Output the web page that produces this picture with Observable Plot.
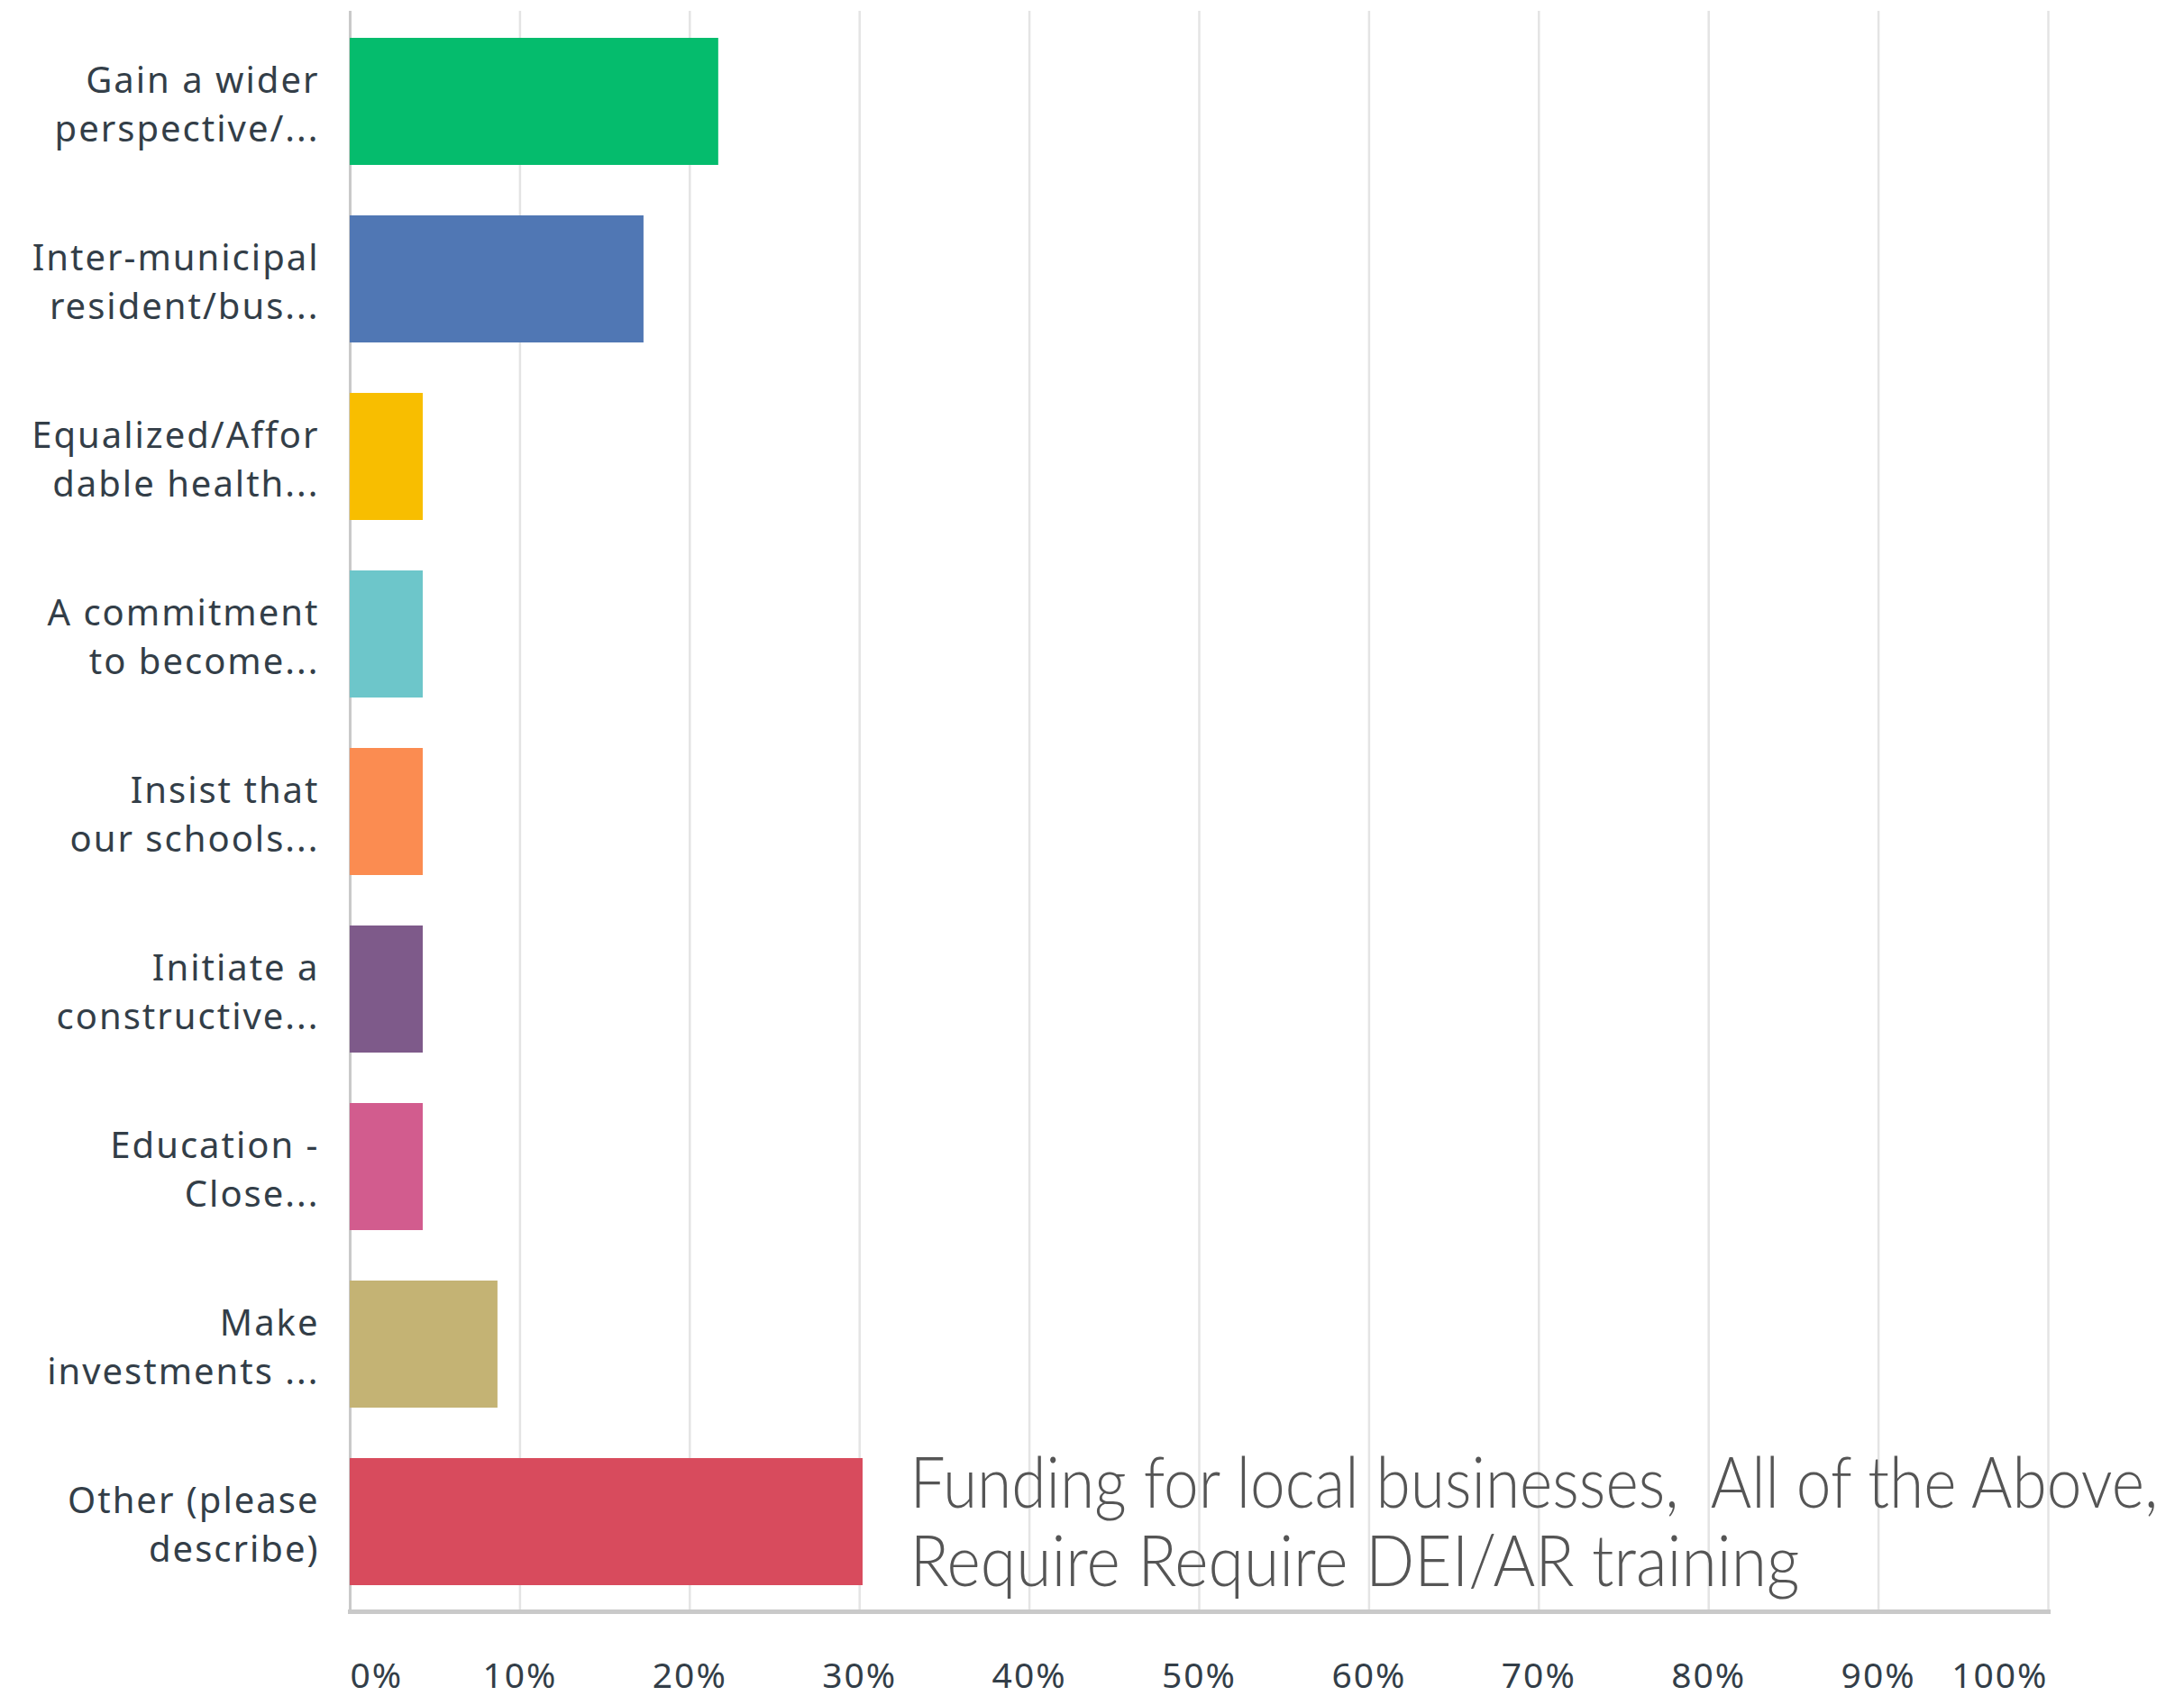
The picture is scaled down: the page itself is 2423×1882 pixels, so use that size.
<!DOCTYPE html>
<html>
<head>
<meta charset="utf-8">
<script src="https://cdn.jsdelivr.net/npm/d3@7"></script>
<script src="https://cdn.jsdelivr.net/npm/@observablehq/plot@0.6"></script>
<style>
  body { margin: 0; background: #ffffff; }
  #chart svg { display: block; }
  .ylab text, .xlab text { letter-spacing: 2px; }
</style>
</head>
<body>
<div id="chart"></div>
<script>
// ---- Data ----
const categories = [
  "Gain a wider\nperspective/...",
  "Inter-municipal\nresident/bus...",
  "Equalized/Affor\ndable health...",
  "A commitment\nto become...",
  "Insist that\nour schools...",
  "Initiate a\nconstructive...",
  "Education -\nClose...",
  "Make\ninvestments ...",
  "Other (please\ndescribe)"
];
const values = [21.7, 17.3, 4.3, 4.3, 4.3, 4.3, 4.3, 8.7, 30.2];
const barColors = ["#05bc6d", "#5077b4", "#f8be00", "#6dc6ca", "#fb8c51", "#7e5a8a", "#d25c8e", "#c4b374", "#d84b5d"];
const tickValues = [0, 10, 20, 30, 40, 50, 60, 70, 80, 90, 100];
const tickLabels = ["0%", "10%", "20%", "30%", "40%", "50%", "60%", "70%", "80%", "90%", "100%"];
const annotationLines = ["Funding for local businesses,  All of the Above,", "Require Require DEI/AR training"];

// ---- Build tables ----
const bars = categories.map((c, i) => ({category: c, value: values[i]}));
const ticks = tickValues.map((v, i) => ({v, label: tickLabels[i]}));
const annotation = [{x: values[values.length - 1], y: categories[categories.length - 1], text: annotationLines.join("\n")}];

const textColor = "#333e48";
const labelFont = "'Noto Sans', 'Open Sans', sans-serif";

const chart = Plot.plot({
  width: 2423,
  height: 1882,
  marginTop: 12,
  marginBottom: 94,
  marginLeft: 388,
  marginRight: 151,
  style: {background: "#ffffff", fontFamily: labelFont},
  x: {domain: [0, 100], axis: null},
  y: {domain: categories, paddingInner: 0.285, paddingOuter: 0.15, axis: null},
  color: {domain: categories, range: barColors},
  marks: [
    Plot.ruleX(tickValues.slice(1), {stroke: "#e4e4e4", strokeWidth: 2.5}),
    Plot.ruleX([0], {stroke: "#c9c9c9", strokeWidth: 3}),
    Plot.barX(bars, {x: "value", y: "category", fill: "category"}),
    Plot.frame({anchor: "bottom", stroke: "#c9c9c9", strokeWidth: 5}),
    Plot.axisY({
      tickSize: 0, tickPadding: 34, fontSize: 40, lineHeight: 1.35,
      color: textColor, fontFamily: labelFont, label: null, className: "ylab"
    }),
    Plot.text(ticks.slice(0, 1), {x: "v", text: "label", frameAnchor: "bottom", dy: 84, textAnchor: "start", fontSize: 39, fill: textColor, className: "xlab"}),
    Plot.text(ticks.slice(1, -1), {x: "v", text: "label", frameAnchor: "bottom", dy: 84, textAnchor: "middle", fontSize: 39, fill: textColor, className: "xlab"}),
    Plot.text(ticks.slice(-1), {x: "v", text: "label", frameAnchor: "bottom", dy: 84, textAnchor: "end", fontSize: 39, fill: textColor, className: "xlab"}),
    Plot.text(annotation, {
      x: "x", y: "y", text: "text", dx: 52, textAnchor: "start", lineAnchor: "middle",
      fontSize: 78, lineHeight: 1.11, fill: "#555555", fontFamily: "Lato, sans-serif", fontWeight: 300,
      className: "annot"
    })
  ]
});

document.getElementById("chart").appendChild(chart);

// Narrow the annotation horizontally (the original uses a condensed light face)
const annotText = chart.querySelector(".annot text");
if (annotText) {
  const spans = annotText.querySelectorAll("tspan");
  const line1 = spans[0].getComputedTextLength();
  const k = 1385 / line1;
  const before = annotText.getBoundingClientRect().left;
  const base = annotText.getAttribute("transform") || "";
  annotText.setAttribute("transform", `${base} scale(${k},1)`);
  if (spans[1]) {
    spans[1].setAttribute("textLength", 987 / k);
    spans[1].setAttribute("lengthAdjust", "spacingAndGlyphs");
  }
  const after = annotText.getBoundingClientRect().left;
  const shift = (before - after);
  if (Math.abs(shift) > 0.5) {
    annotText.setAttribute("transform", `translate(${shift},0) ${base} scale(${k},1)`);
  }
}
</script>
</body>
</html>
